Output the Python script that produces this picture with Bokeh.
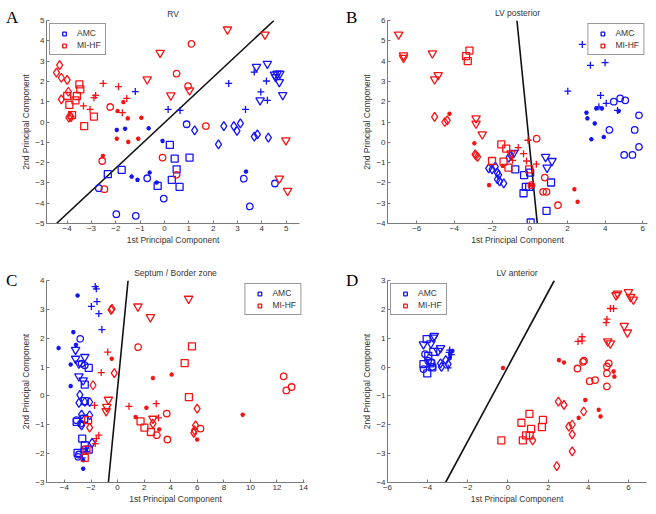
from bokeh.plotting import figure
from bokeh.layouts import column, row
from bokeh.models import Div, Legend, LegendItem, FixedTicker, Range1d
from bokeh.embed import file_html
from bokeh.resources import INLINE

# ---------------- data ----------------
groups = ["AMC", "MI-HF"]
marker_kinds = ["square", "circle", "diamond", "inverted_triangle", "cross", "asterisk"]

# Panel A: RV
A_AMC = {
    "square": [(-2.33, -2.57), (-1.76, -2.36), (0.22, -1.13), (0.42, -1.80), (1.03, -1.75), (0.5, -2.33), (0.30, -2.85), (0.62, -3.2), (-0.28, -3.15)],
    "circle": [(-2.70, -3.26), (-0.71, -2.77), (-0.03, -3.77), (-1.98, -4.54), (-1.18, -4.62), (0.91, -0.11), (3.26, -2.79), (3.51, -4.16), (4.54, -3.03)],
    "diamond": [(1.24, -0.41), (2.44, -0.2), (2.85, -0.2), (2.98, -0.44), (3.12, -0.07), (2.22, -1.10), (3.69, -0.72), (3.82, -0.61), (4.27, -0.77)],
    "inverted_triangle": [(3.78, 2.72), (4.23, 2.87), (4.52, 2.34), (4.63, 2.38), (4.74, 2.38), (4.72, 1.97), (4.86, 1.33), (3.93, 1.07), (4.57, 2.22)],
    "cross": [(-1.2, 1.5), (0.15, 0.62), (0.64, 0.57), (2.64, 1.90), (3.69, 2.46), (4.19, 2.02), (3.96, 1.48), (4.23, 1.07), (3.33, 0.62)],
    "asterisk": [(-1.96, -0.39), (-1.62, -0.33), (-0.65, -0.31), (-0.08, -0.93), (-1.35, -2.69), (-1.11, -2.85), (-0.61, -2.49), (-0.32, -2.98), (3.35, -2.44)],
}
A_MIHF = {
    "square": [(-3.50, 1.85), (-3.46, 1.61), (-4.0, 1.28), (-3.66, 1.07), (-3.6, 1.28), (-3.91, 0.84), (-3.8, 0.34), (-2.9, 0.26), (-3.3, -0.2)],
    "circle": [(1.11, 3.85), (0.5, 2.38), (0.97, 1.77), (-2.23, 0.74), (1.70, -0.2), (-0.08, -1.75), (0.5, -2.6), (-2.56, -1.92), (-2.47, -3.31)],
    "diamond": [(-4.31, 2.80), (-4.44, 2.43), (-4.24, 2.18), (-4.0, 2.08), (-3.95, 1.49), (-4.24, 1.11), (-3.88, 0.30), (-3.84, 0.24), (-3.93, 0.22)],
    "inverted_triangle": [(2.59, 4.56), (4.13, 4.31), (-0.18, 3.41), (-0.71, 2.1), (0.26, 1.31), (1.03, 1.56), (4.99, -0.9), (4.72, -2.79), (5.06, -3.39)],
    "cross": [(-2.52, 1.90), (-1.89, 1.74), (-1.55, 1.16), (-2.9, 1.2), (-2.83, 1.31), (-3.33, 0.79), (-3.06, 0.62), (-1.73, 0.46)],
    "asterisk": [(-1.69, 0.98), (-1.93, 0.54), (-1.51, 0.18), (-0.95, 0.21), (-1.96, -0.82), (-1.49, -0.98), (-1.08, -0.82), (-2.53, -1.67)],
}
A_boundary_x = [-4.44, 4.5]
A_boundary_y = [-5.0, 5.0]

# Panel B: LV posterior
B_AMC = {
    "square": [(-0.77, -1.33), (-0.30, -1.62), (-0.21, -2.20), (-0.03, -2.20), (-0.33, -2.51), (0.02, -1.49), (1.13, -1.98), (0.89, -3.38), (0.05, -3.95)],
    "circle": [(4.46, 2.0), (4.80, 2.16), (5.07, 2.07), (4.23, 0.61), (5.80, 1.33), (5.57, 0.61), (5.80, -0.23), (5.01, -0.62), (5.45, -0.62)],
    "diamond": [(-2.18, -1.28), (-2.0, -1.33), (-1.83, -1.20), (-1.72, -1.49), (-1.65, -1.61), (-1.72, -1.82), (-1.60, -1.93), (-1.38, -2.02), (-1.11, -0.75), (-1.0, -0.65)],
    "inverted_triangle": [(-0.85, -0.52), (0.84, -0.72), (0.92, -1.25), (1.18, -0.92)],
    "cross": [(2.79, 4.82), (3.22, 3.79), (4.0, 3.92), (2.02, 2.52), (3.76, 2.31), (4.06, 1.92), (3.67, 1.75), (4.66, 1.57)],
    "asterisk": [(3.01, 1.46), (3.06, 1.18), (3.53, 1.67), (3.83, 1.67), (3.45, 0.93), (3.27, 0.15), (3.93, 0.26), (4.72, 1.54)],
}
B_MIHF = {
    "square": [(-3.38, 4.25), (-3.29, 4.0), (-3.2, 4.52), (-1.51, -0.10), (-1.25, -0.31), (-1.39, -0.95), (-1.13, -1.25), (-2.0, -0.92), (-0.03, -1.33)],
    "circle": [(0.37, 0.18), (0.80, -1.74), (0.71, -2.44), (0.89, -2.44), (1.50, -3.10), (0.09, -2.11)],
    "diamond": [(-5.05, 1.25), (-4.51, 1.0), (-4.38, 1.08), (-2.9, -0.59), (-2.77, -0.72), (-2.85, -0.65)],
    "inverted_triangle": [(-6.96, 5.31), (-6.70, 4.28), (-6.70, 4.16), (-5.17, 4.38), (-5.05, 3.10), (-4.86, 3.31), (-2.85, 1.18), (-2.85, 0.92), (-2.52, 0.39), (-0.99, -0.55)],
    "cross": [(-0.61, -0.26), (-0.33, -0.56), (-0.17, -0.92), (0.35, -1.08), (-0.09, 0.10), (-0.91, -0.89)],
    "asterisk": [(-4.26, 1.41), (-2.94, -0.05), (-2.16, -2.11), (0.10, -2.11), (2.37, -2.31), (2.54, -2.93), (-1.43, -1.16)],
}
B_boundary_x = [-0.68, 0.40]
B_boundary_y = [6.0, -4.0]

# Panel C: Septum / Border zone
C_AMC = {
    "square": [(-2.17, 0.97), (-2.47, 0.39), (-2.47, -0.18), (-3.08, -0.90), (-2.51, -0.79), (-2.66, -1.48), (-2.47, -1.71), (-3.01, -1.97), (-2.17, -1.86)],
    "circle": [(-2.81, 1.98), (-2.71, 1.12), (-2.47, 1.06), (-3.08, -0.84), (-2.76, -0.96), (-2.51, -1.86), (-2.91, -2.03), (-2.96, -2.11)],
    "diamond": [(-2.84, 0.04), (-2.91, -0.24), (-2.47, -0.21), (-2.10, -0.21), (-2.71, -0.65), (-2.10, -0.67), (-2.71, -1.02), (-1.92, -1.63)],
    "inverted_triangle": [(-3.16, 1.60), (-3.16, 1.29), (-2.91, 1.12), (-2.47, 1.35), (-2.91, 0.68), (-2.59, 0.54)],
    "cross": [(-1.68, 3.79), (-1.60, 3.71), (-1.55, 3.27), (-1.97, 3.10), (-1.41, 2.85), (-1.18, 2.30), (-2.34, -1.92), (-2.66, -2.15)],
    "asterisk": [(-3.01, 3.48), (-3.33, 2.21), (-4.44, 1.66), (-3.13, 1.77), (-3.53, 1.09), (-3.53, 0.34), (-2.59, -2.23), (-2.59, -2.52)],
}
C_MIHF = {
    "square": [(5.60, 1.72), (5.05, 1.14), (5.37, -0.04), (1.73, -0.88), (2.02, -1.10), (2.51, -1.25), (-2.22, -0.84), (-2.34, -1.86), (-2.47, -2.15)],
    "circle": [(1.55, 1.69), (12.5, 0.68), (12.7, 0.19), (13.1, 0.31), (3.70, -0.61), (2.96, -1.36), (3.75, -1.51), (6.24, -1.13)],
    "diamond": [(-0.49, 2.98), (-0.42, 3.02), (-1.85, 0.37), (-0.25, 0.79), (-2.10, -1.10), (5.79, -1.19), (5.74, -1.28), (5.87, -1.02), (5.99, -0.44), (2.66, -0.96)],
    "inverted_triangle": [(1.53, 3.10), (2.47, 2.73), (5.35, 3.37), (-0.69, -0.13), (-0.81, -0.38), (-0.86, -0.53), (2.66, -0.79)],
    "cross": [(-0.74, 1.52), (-1.23, 0.81), (-1.73, -0.33), (0.86, -0.36), (2.91, -0.27), (3.08, -0.76), (-1.60, -1.48), (-1.68, -1.65), (-1.41, -1.36)],
    "asterisk": [(-0.44, 1.29), (2.66, 0.62), (4.07, 0.74), (1.36, -0.73), (2.17, -0.41), (3.13, -1.16), (5.99, -1.51), (9.42, -0.65)],
}
C_boundary_x = [0.79, -0.69]
C_boundary_y = [4.0, -3.0]

# Panel D: LV anterior
D_AMC = {
    "square": [(-4.05, 0.97), (-3.72, 0.53), (-3.97, 0.39), (-3.85, 0.13), (-4.02, -0.22), (-4.21, 0.10), (-3.77, -0.01)],
    "circle": [(-4.13, 0.45), (-3.97, 0.22), (-3.80, 0.16), (-4.21, -0.07), (-3.75, 0.01)],
    "diamond": [(-3.31, 0.01), (-3.10, 0.24), (-3.36, 0.13), (-2.98, 0.10)],
    "inverted_triangle": [(-3.67, 1.08), (-3.72, 1.02), (-3.84, 0.82), (-4.21, 0.79), (-3.36, 0.66), (-3.48, 0.56)],
    "cross": [(-2.90, 0.59), (-2.82, 0.43), (-2.98, -0.03), (-2.93, 0.51)],
    "asterisk": [(-2.87, 0.45), (-2.90, 0.31), (-2.77, 0.56)],
}
D_MIHF = {
    "square": [(-0.33, -2.54), (0.67, -1.93), (1.07, -1.62), (0.74, -2.54), (0.90, -2.37), (1.08, -2.37), (1.15, -2.14), (1.69, -2.08), (1.74, -1.83)],
    "circle": [(3.46, -0.05), (3.74, 0.18), (3.79, 0.22), (4.07, -0.49), (4.34, -0.45), (4.93, -0.22), (4.93, 0.02), (5.02, 0.13), (4.93, -0.67)],
    "diamond": [(1.23, -2.54), (2.51, -1.20), (2.79, -1.31), (3.03, -2.06), (3.20, -1.99), (3.20, -2.33), (3.20, -2.92), (2.43, -3.43), (3.77, -1.54)],
    "inverted_triangle": [(5.38, 2.49), (5.46, 2.55), (6.0, 2.6), (6.11, 2.43), (6.25, 2.34), (5.79, 1.43), (5.95, 1.20), (4.97, 0.89), (5.10, 0.82)],
    "cross": [(4.89, 1.54), (4.93, 1.66), (5.10, 2.03), (5.26, 2.03), (3.49, 0.89), (3.69, 1.05), (3.69, 0.91)],
    "asterisk": [(-0.25, -0.03), (2.54, 0.24), (2.79, 0.16), (3.85, -1.14), (3.52, -1.76), (4.52, -1.48), (4.61, -1.71), (5.26, -0.15), (5.30, -0.33)],
}
D_boundary_x = [-3.11, 2.31]
D_boundary_y = [-4.0, 3.0]

panel_titles = ["RV", "LV posterior", "Septum / Border zone", "LV anterior"]
panel_letters = ["A", "B", "C", "D"]

# ---------------- style ----------------
BLUE = "#1414f5"
RED = "#f51414"
MSIZE = {"square": 7, "circle": 6.5, "diamond": 9, "inverted_triangle": 8.5, "cross": 7, "asterisk": 4.5}
FONT = "Liberation Sans"
TXT = "#333333"
AX = "#7a7a7a"


def make_panel(title, xr, yr, xticks, yticks, amc, mihf, bx, by,
               size, borders, legend_loc, title_offset, title_standoff):
    w, h = size
    bl, br, bt, bb = borders
    p = figure(width=w, height=h, x_range=Range1d(*xr), y_range=Range1d(*yr),
               output_backend="svg", toolbar_location=None,
               min_border_left=bl, min_border_right=br,
               min_border_top=bt, min_border_bottom=bb)
    p.title.text = title
    p.title.align = "center"
    p.title.offset = title_offset
    p.title.standoff = title_standoff
    p.title.text_font = FONT
    p.title.text_font_size = "8.5px"
    p.title.text_font_style = "normal"
    p.title.text_color = TXT

    p.grid.visible = False
    p.outline_line_color = None
    p.xaxis.ticker = FixedTicker(ticks=xticks)
    p.yaxis.ticker = FixedTicker(ticks=yticks)
    p.axis.major_tick_in = 3
    p.axis.major_tick_out = 0
    p.axis.minor_tick_line_color = None
    p.axis.axis_line_color = AX
    p.axis.major_tick_line_color = AX
    p.axis.major_label_text_font = FONT
    p.axis.major_label_text_font_size = "8px"
    p.axis.major_label_text_color = TXT
    p.axis.major_label_standoff = 2
    p.axis.axis_label_text_font = FONT
    p.axis.axis_label_text_font_size = "8.5px"
    p.axis.axis_label_text_font_style = "normal"
    p.axis.axis_label_text_color = TXT
    p.axis.axis_label_standoff = 1
    p.xaxis.axis_label = "1st Principal Component"
    p.yaxis.axis_label = "2nd Principal Component"

    p.line(bx, by, line_color="#111111", line_width=1.6)

    legend_r = {}
    for grp, data, col in (("AMC", amc, BLUE), ("MI-HF", mihf, RED)):
        for mk in marker_kinds:
            pts = data.get(mk, [])
            if not pts:
                continue
            xs = [a for a, b in pts]
            ys = [b for a, b in pts]
            r = p.scatter(xs, ys, marker=mk, size=MSIZE[mk], line_color=col,
                          fill_color=None, line_width=1.3)
            if mk == "square":
                legend_r[grp] = r

    leg = Legend(items=[LegendItem(label=g, renderers=[legend_r[g]]) for g in groups],
                 location=legend_loc)
    leg.border_line_color = "#333333"
    leg.border_line_width = 1
    leg.background_fill_color = "white"
    leg.background_fill_alpha = 1
    leg.label_text_font = FONT
    leg.label_text_font_size = "8.5px"
    leg.label_text_color = TXT
    leg.glyph_width = 20
    leg.glyph_height = 9
    leg.label_height = 9
    leg.label_standoff = 3
    leg.padding = 4
    leg.spacing = 2
    leg.margin = 3
    p.add_layout(leg)
    return p


def make_letter(letter, w, h, pad_left, pad_top):
    html = ('<div style="font-family:\'Liberation Serif\',serif;font-size:17px;'
            'font-weight:normal;line-height:17px;color:#000;padding:%dpx 0 0 %dpx;">%s</div>'
            % (pad_top, pad_left, letter))
    return Div(text=html, width=w, height=h, margin=0)


pA = make_panel(panel_titles[0], (-4.85, 5.55), (-5, 5), list(range(-4, 6)), list(range(-5, 6)),
                A_AMC, A_MIHF, A_boundary_x, A_boundary_y,
                (312, 250), (23, 31, 20, 27), "top_left", -6, 4)
pB = make_panel(panel_titles[1], (-7.55, 6.25), (-4, 6), list(range(-6, 7, 2)), list(range(-4, 7)),
                B_AMC, B_MIHF, B_boundary_x, B_boundary_y,
                (296, 250), (24, 8, 20, 27), "top_right", 2, 5)
pC = make_panel(panel_titles[2], (-5.35, 14.07), (-3, 4), list(range(-4, 15, 2)), list(range(-3, 5)),
                C_AMC, C_MIHF, C_boundary_x, C_boundary_y,
                (312, 263), (23, 26, 30, 31), "top_right", -2, 5)
pD = make_panel(panel_titles[3], (-6, 6.9), (-4, 3), list(range(-6, 7, 2)), list(range(-4, 4)),
                D_AMC, D_MIHF, D_boundary_x, D_boundary_y,
                (296, 263), (25, 9, 29, 31), "top_left", 2, 5)

lA = make_letter(panel_letters[0], 18, 250, 6, 9)
lB = make_letter(panel_letters[1], 29, 250, 16, 9)
lC = make_letter(panel_letters[2], 18, 263, 6, 22)
lD = make_letter(panel_letters[3], 29, 263, 16, 22)

layout = column(row(lA, pA, lB, pB), row(lC, pC, lD, pD))
open("out.html", "w").write(file_html(layout, INLINE))
